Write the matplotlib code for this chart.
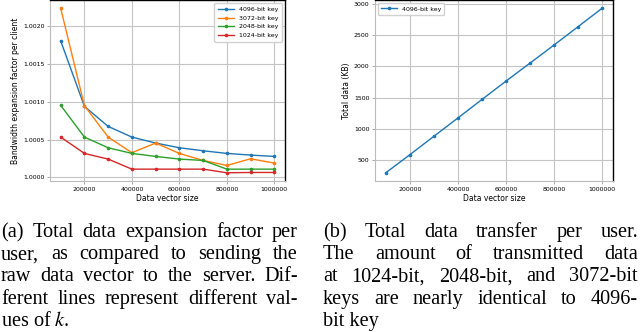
import matplotlib
matplotlib.use("Agg")
import matplotlib.pyplot as plt
from matplotlib.ticker import FormatStrFormatter

# data
sizes = [100000, 200000, 300000, 400000, 500000, 600000, 700000, 800000, 900000, 1000000]
exp_4096 = [1.001806, 1.000940, 1.000675, 1.000534, 1.000455, 1.000393, 1.000353, 1.000318, 1.000296, 1.000278]
exp_3072 = [1.002238, 1.000949, 1.000534, 1.000327, 1.000455, 1.000318, 1.000225, 1.000159, 1.000247, 1.000190]
exp_2048 = [1.000954, 1.000534, 1.000393, 1.000318, 1.000278, 1.000243, 1.000225, 1.000110, 1.000110, 1.000110]
exp_1024 = [1.000534, 1.000318, 1.000243, 1.000110, 1.000110, 1.000110, 1.000110, 1.000062, 1.000066, 1.000066]
total_4096 = [299, 588, 882, 1176, 1471, 1765, 2053, 2342, 2636, 2930]

key_labels = ["4096-bit key", "3072-bit key", "2048-bit key", "1024-bit key"]

caption_a = ["(a) Total data expansion factor per",
             "user, as compared to sending the",
             "raw data vector to the server. Dif-",
             "ferent lines represent different val-",
             "ues of $k$."]
caption_b = ["(b) Total data transfer per user.",
             "The amount of transmitted data",
             "at 1024-bit, 2048-bit, and 3072-bit",
             "keys are nearly identical to 4096-",
             "bit key"]

plt.rcParams['mathtext.fontset'] = 'stix'

W, H = 640, 332
fig = plt.figure(figsize=(6.4, 3.32), dpi=100)
ax1 = fig.add_axes([50 / W, 1 - 181 / H, 235 / W, 181 / H])
ax2 = fig.add_axes([375 / W, 1 - 181 / H, 238 / W, 181 / H])


def style(ax):
    ax.grid(True, color='#c4c4c4', linewidth=0.8)
    ax.set_axisbelow(True)
    ax.tick_params(labelsize=4.5, length=2, width=0.5, pad=2, color='#888888')
    for s in ['left', 'bottom']:
        ax.spines[s].set_color('#bbbbbb')
        ax.spines[s].set_linewidth(0.8)
    for s in ['top', 'right']:
        ax.spines[s].set_color('black')
        ax.spines[s].set_linewidth(1.0)
    ax.ticklabel_format(axis='x', style='plain', useOffset=False)
    ax.set_xticks([200000, 400000, 600000, 800000, 1000000])
    ax.set_xlabel("Data vector size", fontsize=5.5, labelpad=2)


for vals, lab in zip([exp_4096, exp_3072, exp_2048, exp_1024], key_labels):
    ax1.plot(sizes, vals, marker='o', markersize=1.6, linewidth=1.0, label=lab)
style(ax1)
ax1.yaxis.set_major_formatter(FormatStrFormatter('%.4f'))
ax1.set_yticks([1.0000, 1.0005, 1.0010, 1.0015, 1.0020])
ax1.set_ylabel("Bandwidth expansion factor per client", fontsize=5.5, labelpad=2)
ax1.legend(fontsize=4.5, loc='upper right', handlelength=2.5, borderpad=0.6,
           labelspacing=0.5, framealpha=0.9)

ax2.plot(sizes, total_4096, marker='o', markersize=1.6, linewidth=1.0, label=key_labels[0])
style(ax2)
ax2.set_yticks([500, 1000, 1500, 2000, 2500, 3000])
ax2.set_ylabel("Total data (KB)", fontsize=5.5, labelpad=2)
ax2.legend(fontsize=4.5, loc='upper left', handlelength=2.5, borderpad=0.5, framealpha=0.9)

cap = dict(fontsize=14.6, family='Liberation Serif', va='baseline', ha='left')


def put_caption(lines, x0, x1, y_base, step):
    r = fig.canvas.get_renderer()
    for i, line in enumerate(lines):
        y = 1 - (y_base + i * step) / H
        if i == len(lines) - 1:
            fig.text(x0 / W, y, line, **cap)
            continue
        words = line.split()
        items = [fig.text(0, y, w, **cap) for w in words]
        widths = [t.get_window_extent(r).width for t in items]
        gap = (x1 - x0 - sum(widths)) / (len(words) - 1)
        x = x0
        for t, w in zip(items, widths):
            t.set_x(x / W)
            x += w + gap


put_caption(caption_a, 1, 298, 237, 22.2)
put_caption(caption_b, 323, 638, 237, 22.2)

fig.savefig("out.png", dpi=100)
